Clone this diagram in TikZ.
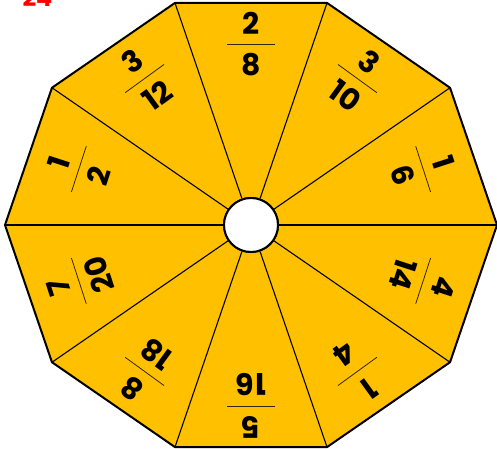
\documentclass[tikz,border=0pt]{standalone}
\usepackage{fontspec}
\setmainfont{Poppins}
\usetikzlibrary{positioning}
\definecolor{cyellow}{HTML}{FFC000}
\definecolor{cred}{HTML}{FF0000}
\tikzset{
  rim/.style={draw=black, fill=cyellow, line width=2bp, line join=miter},
  spoke/.style={draw=black, line width=1.1bp},
  hub/.style={circle, draw=black, fill=white, line width=2bp, minimum size=54bp, inner sep=0pt},
  digit/.style={font=\fontsize{30}{30}\selectfont\bfseries, inner sep=0pt},
  fracline/.style={draw=black!80!cyellow, line width=0.8bp},
  tag/.style={font=\fontsize{24}{24}\selectfont\bfseries, text=cred, inner sep=0pt},
}

\begin{document}
\begin{tikzpicture}[x=1bp, y=1bp]
  \useasboundingbox (-251,-224) rectangle (246,225);
  % decagon and spokes
  \draw[rim] (0:246 and 233.5) \foreach \a in {36,72,...,324} { -- (\a:246 and 233.5) } -- cycle;
  \node[hub] (hub) at (0,0) {};
  \foreach \a in {0,36,...,324} \draw[spoke] (hub) -- (\a:246 and 233.5);
  \node[hub] (hubtop) at (0,0) {};
  % fractions, top of each one points outwards
  \foreach \ang/\num/\den [count=\i] in {90/2/8, 54/3/10, 18/1/6, -18/4/14, -54/1/4,
                                          -90/5/16, -126/8/18, -162/7/20, 162/1/2, 126/3/12} {
    \begin{scope}[shift={(\ang:181)}, rotate=\ang-90, transform shape]
      \node[digit] (num\i) at (0,21) {\num};
      \node[digit] (den\i) at (0,-21) {\den};
      \draw[fracline] (-24,0) -- (24,0);
    \end{scope}
  }
  \node[tag, anchor=base] (sheet) at (-213.5,218) {24};
\end{tikzpicture}
\end{document}
